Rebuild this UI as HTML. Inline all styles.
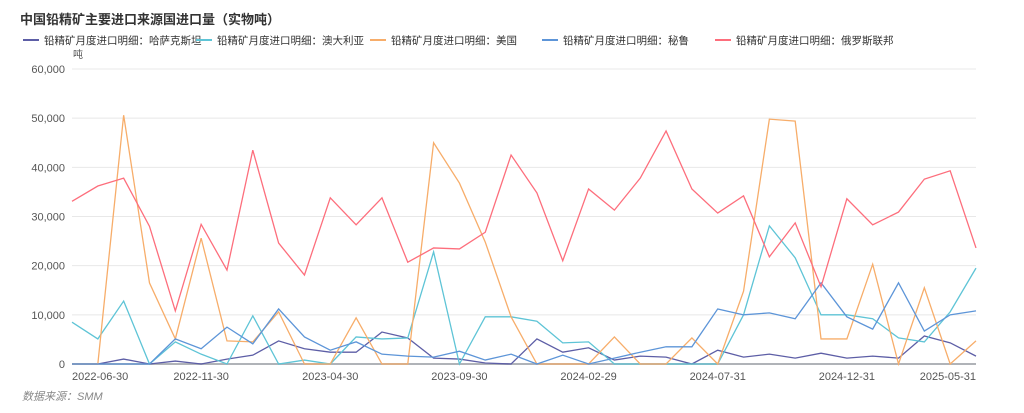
<!DOCTYPE html>
<html><head><meta charset="utf-8"><style>
body{margin:0;background:#fff;font-family:"Liberation Sans","Noto Sans CJK SC",sans-serif;}
#wrap{position:relative;width:1024px;height:413px;overflow:hidden}
.title{position:absolute;left:20px;top:9px;font-size:13px;font-weight:bold;color:#333}
.src{position:absolute;left:22px;top:388px;font-size:11px;color:#888;font-style:italic}
</style></head><body>
<div id="wrap">
<div class="title">中国铅精矿主要进口来源国进口量（实物吨）</div>
<svg id="chart" width="1024" height="413" style="position:absolute;left:0;top:0"></svg>
<div class="src">数据来源：SMM</div>
</div>
<script>
const months = ["2022-06-30","2022-07-31","2022-08-31","2022-09-30","2022-10-31","2022-11-30","2022-12-31","2023-01-31","2023-02-28","2023-03-31","2023-04-30","2023-05-31","2023-06-30","2023-07-31","2023-08-31","2023-09-30","2023-10-31","2023-11-30","2023-12-31","2024-01-31","2024-02-29","2024-03-31","2024-04-30","2024-05-31","2024-06-30","2024-07-31","2024-08-31","2024-09-30","2024-10-31","2024-11-30","2024-12-31","2025-01-31","2025-02-28","2025-03-31","2025-04-30","2025-05-31"];
const shownLabels = ["2022-06-30","2022-11-30","2023-04-30","2023-09-30","2024-02-29","2024-07-31","2024-12-31","2025-05-31"];
const yTicks = [0,10000,20000,30000,40000,50000,60000];
const seriesNames = ["铅精矿月度进口明细：哈萨克斯坦","铅精矿月度进口明细：澳大利亚","铅精矿月度进口明细：美国","铅精矿月度进口明细：秘鲁","铅精矿月度进口明细：俄罗斯联邦"];
const kazakhstan = [0,0,1000,0,600,0,1000,1800,4700,3100,2400,2400,6500,5300,1200,1000,200,0,5100,2400,3300,800,1600,1400,0,2800,1400,2000,1200,2200,1200,1600,1200,5700,4300,1600];
const australia = [8500,5100,12800,0,4500,2000,0,9800,0,800,0,5500,5100,5300,22800,0,9600,9600,8700,4300,4500,0,0,0,0,0,10000,28100,21600,10000,10000,9200,5300,4500,10600,19500];
const usa = [0,0,50600,16500,5100,25600,4700,4500,10600,0,0,9400,0,0,45000,36800,24800,9600,0,0,0,5500,0,0,5300,0,14800,49800,49400,5100,5100,20300,0,15500,0,4700];
const peru = [0,0,0,0,5100,3100,7500,4100,11200,5500,2800,4500,2000,1600,1400,2600,800,2000,0,1800,0,1200,2400,3500,3500,11200,10000,10400,9200,16500,9600,7100,16500,6700,10000,10800];
const russia = [33100,36200,37800,28000,10800,28400,19100,43500,24600,18100,33800,28300,33800,20700,23600,23400,26800,42500,34800,21000,35600,31300,37800,47400,35600,30700,34200,21800,28700,15700,33600,28300,30900,37600,39300,23600];
const colors = ["#5d5ea6","#5ec4d6","#f7ad6a","#5d95d8","#fd6e7c"];
const svg = document.getElementById('chart');
const NS = 'http://www.w3.org/2000/svg';
const X0=72, X1=976, Y0=364, Y1=69, YMAX=60000;
function xs(i){return X0+(X1-X0)*i/(months.length-1);}
function ys(v){return Y0-(Y0-Y1)*v/YMAX;}
function mk(tag,attrs,parent){const e=document.createElementNS(NS,tag);for(const k in attrs)e.setAttribute(k,attrs[k]);(parent||svg).appendChild(e);return e;}
yTicks.forEach(t=>{
  const l=mk('line',{x1:X0,x2:X1,y1:ys(t),y2:ys(t),stroke:t===0?'#b0b3b8':'#e8e8e8','stroke-width':t===0?2:1});
  
  
  const tx=mk('text',{x:65,y:ys(t)+4,'text-anchor':'end','font-size':11,fill:'#555'});
  tx.textContent=t.toLocaleString('en-US');
  
  
});
const unit=mk('text',{x:73,y:58,'font-size':10,fill:'#555'});unit.textContent='吨';


shownLabels.forEach((lab,j)=>{
  const i=months.indexOf(lab);
  const anchor=j===0?'start':(j===shownLabels.length-1?'end':'middle');
  const tx=mk('text',{x:xs(i),y:380,'text-anchor':anchor,'font-size':11,fill:'#555'});
  tx.textContent=lab;
  
  
});
const allSeries=[kazakhstan,australia,usa,peru,russia];
allSeries.forEach((s,k)=>{
  const p=mk('polyline',{points:s.map((v,i)=>xs(i)+','+ys(v)).join(' '),fill:'none',stroke:colors[k],'stroke-width':1.3});
  
  
});
const legX=[23,196,370,542,715];
seriesNames.forEach((n,k)=>{
  const g=mk('g',{});
  
  
  mk('line',{x1:legX[k],x2:legX[k]+16,y1:40,y2:40,stroke:colors[k],'stroke-width':2},g);
  const t=mk('text',{x:legX[k]+21,y:44,'font-size':10.5,fill:'#333'},g);t.textContent=n;
});
</script>
</body></html>
